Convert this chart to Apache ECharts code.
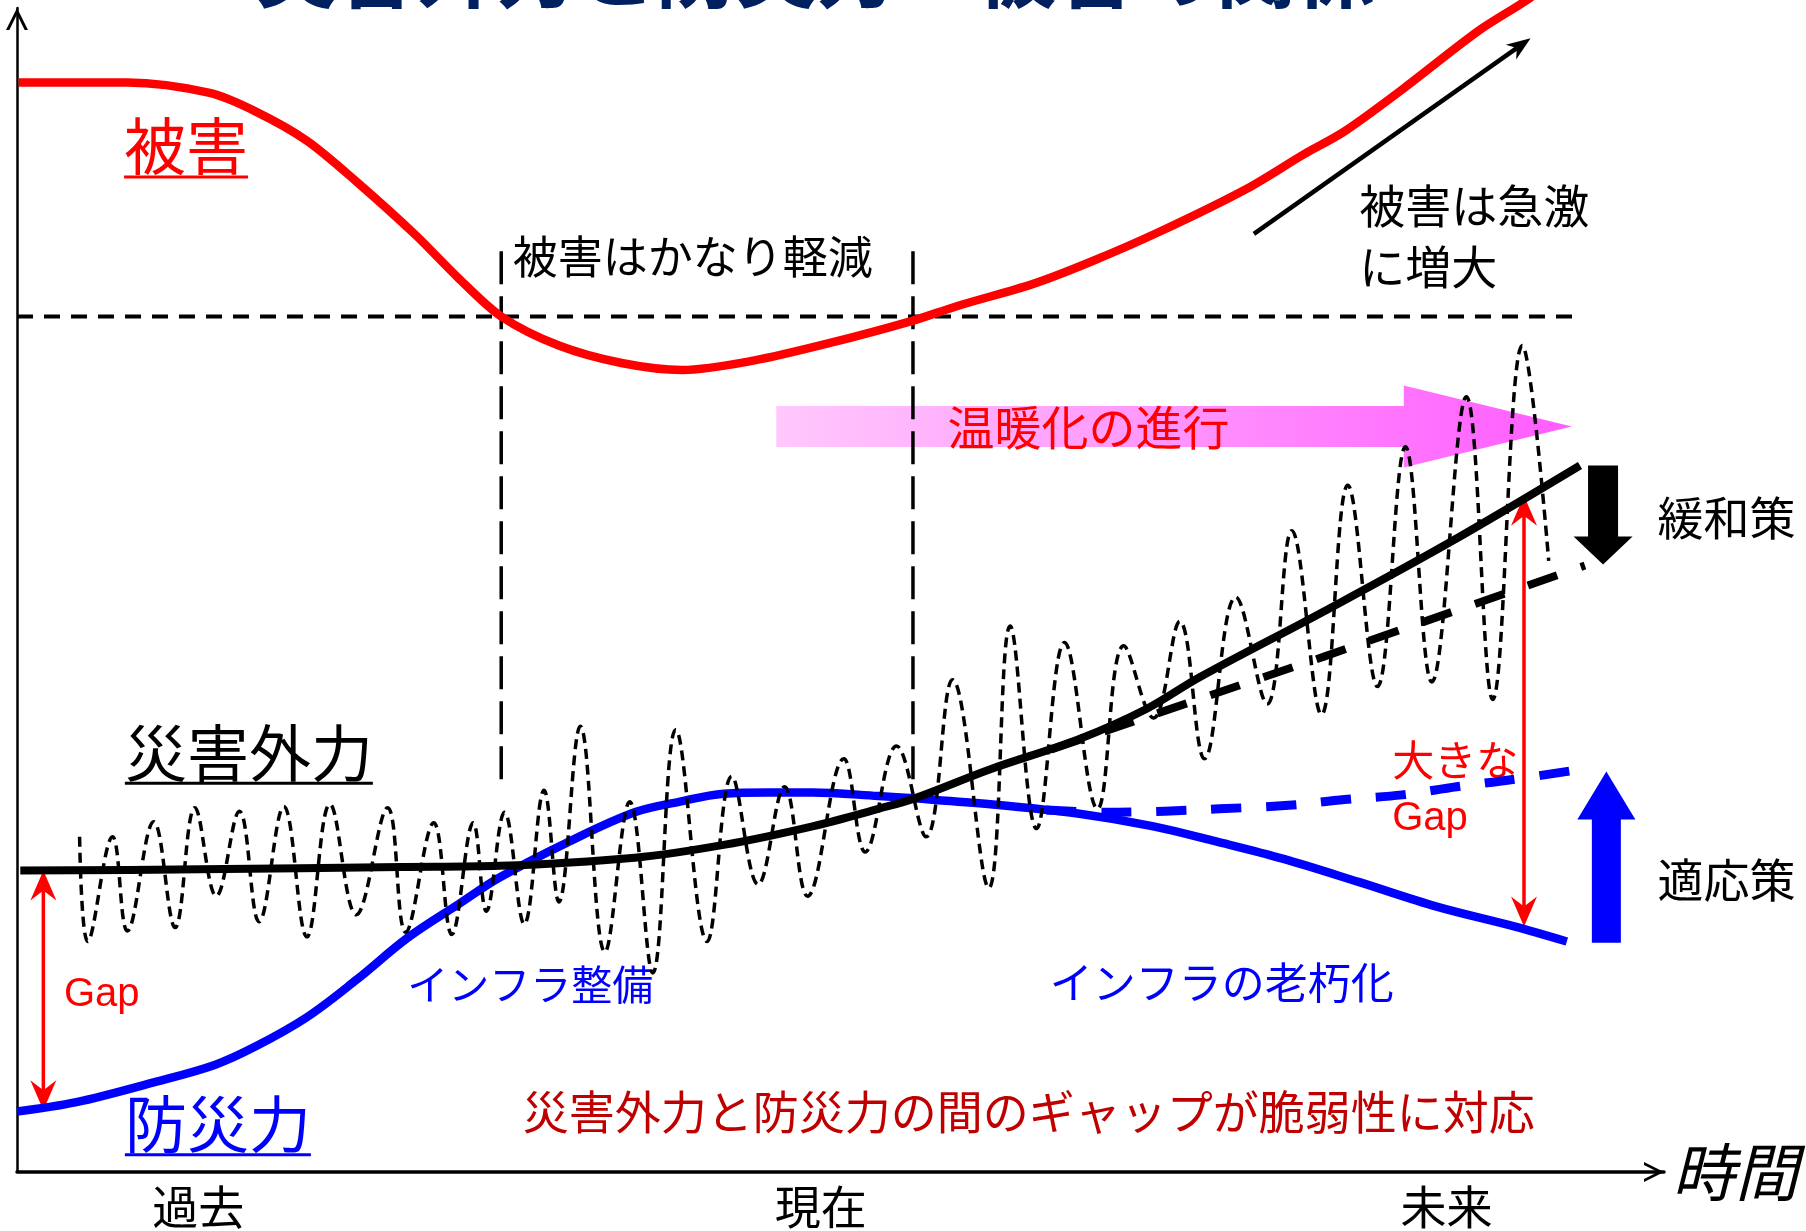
<!DOCTYPE html>
<html>
<head>
<meta charset="utf-8">
<title>災害外力と防災力・被害の関係</title>
<script src="https://cdn.jsdelivr.net/npm/echarts@6/dist/echarts.min.js"></script>
<style>
  html, body { margin: 0; padding: 0; background: #ffffff; }
  #chart { width: 1806px; height: 1231px; }
</style>
</head>
<body>
<div id="chart"></div>
<script>
// ---------- data (time 0–100 across, magnitude 0–100 up) ----------
const timeTicks = [11.0, 48.8, 86.8];
const timeLabels = ['過去', '現在', '未来'];

// 被害 (damage)
const damage = [[0.1,93.6],[6.7,93.6],[11.7,92.7],[14.5,91.1],[17.6,88.6],[20.6,85.1],[24.2,80.5],[26.8,76.8],[29.4,73.5],[32.9,71.0],[36.7,69.5],[40.4,68.9],[44.7,69.7],[49.3,71.2],[54.3,73.1],[57.1,74.4],[61.7,76.3],[65.2,78.2],[69.4,80.8],[74.7,84.5],[78.1,87.4],[80.6,89.4],[84.2,93.1],[88.7,98.0],[91.9,100.9],[93.7,103.0]];

// 災害外力 (hazard): long-term trend, trend with mitigation, and individual events
const hazardTrend = [[0.2,25.9],[11.1,26.0],[23.3,26.2],[29.3,26.3],[37.5,27.0],[42.9,28.1],[48.3,29.7],[52.3,31.2],[54.5,32.1],[59.1,34.6],[64.5,37.2],[68.6,39.8],[71.8,42.5],[79.4,48.2],[87.0,54.1],[94.9,60.7]];
const hazardMitigated = [[62.8,36.3],[79.4,44.3],[95.2,52.1]];
const hazardEvents = [[3.8,28.8],[4.3,19.8],[5.8,28.8],[6.7,20.7],[8.3,30.1],[9.6,21.0],[10.8,31.3],[12.1,23.7],[13.5,31.0],[14.7,21.5],[16.2,31.4],[17.6,20.2],[19.0,31.6],[20.6,22.1],[22.5,31.3],[23.6,20.6],[25.3,30.0],[26.4,20.4],[27.7,30.0],[28.5,22.4],[29.6,30.9],[30.8,21.3],[32.0,32.8],[32.9,23.2],[34.2,38.3],[35.7,18.9],[37.2,31.8],[38.6,17.1],[40.0,38.0],[41.9,19.8],[43.4,34.0],[45.0,24.7],[46.6,33.1],[48.0,23.7],[50.2,35.5],[51.5,27.5],[53.4,36.6],[55.2,28.8],[56.8,42.3],[59.0,24.4],[60.3,46.9],[61.9,29.5],[63.6,45.5],[65.6,31.2],[67.2,45.2],[69.0,39.0],[70.6,47.3],[72.1,35.5],[74.0,49.4],[75.9,40.2],[77.4,55.1],[79.2,39.3],[80.8,59.0],[82.6,41.7],[84.3,62.3],[85.9,42.1],[88.0,66.6],[89.6,40.6],[91.4,71.0],[93.0,52.5]];

// 防災力 (resilience): as built / ageing, and with adaptation
const resilience = [[0,5.2],[3.6,6.0],[8.3,7.7],[12.0,9.2],[14.5,10.8],[17.6,13.3],[20.6,16.5],[23.7,20.1],[26.8,23.0],[29.3,25.3],[33.4,28.3],[37.5,30.9],[40.2,31.8],[42.9,32.5],[45.6,32.6],[48.3,32.6],[52.3,32.3],[54.5,32.1],[59.1,31.6],[64.4,30.8],[69.0,29.7],[72.8,28.4],[76.9,26.9],[81.5,24.9],[86.2,22.8],[90.9,21.1],[94.1,19.8]];
const resilienceAdapted = [[62.5,31.1],[66.0,30.9],[69.7,31.0],[73.0,31.2],[77.2,31.5],[80.6,32.0],[84.1,32.4],[87.4,33.1],[90.7,33.7],[95.0,34.6]];

// reference level of damage and the period of reduced damage
const damageReference = [[0, 73.5], [94.7, 73.5]];
const eraBounds = [29.4, 54.4];
const eraSpan = [79.1, 32.9];

// ---------- annotations ----------
// double-headed gap arrows: [x, hazard level, resilience level]
const gapArrows = [[1.6, 25.9, 5.3], [91.5, 58.1, 21.1]];
// "damage rises sharply" pointer: [x0, y0, x1, y1]
const surgeArrow = [[75.1, 80.6, 91.9, 97.4]];
// warming band: [left, head base, tip, centre]
const warmingArrow = [[46.1, 84.2, 94.4, 64.05]];
// policy arrows: [x, from, to]  (緩和策 lowers the hazard, 適応策 raises resilience)
const policyArrows = [[96.3, 60.7, 52.2], [96.5, 19.7, 34.4]];

// text labels: [text, left, centre]
const notes = [
  ['被害', 6.5, 88.1],
  ['災害外力', 6.55, 36.0],
  ['防災力', 6.55, 4.1],
  ['被害はかなり軽減', 30.1, 78.6],
  ['被害は急激', 81.5, 83.0],
  ['に増大', 81.5, 77.8],
  ['温暖化の進行', 56.5, 64.0],
  ['緩和策', 99.6, 56.2],
  ['適応策', 99.6, 25.1],
  ['大きな', 83.5, 35.4],
  ['Gap', 83.5, 30.3],
  ['Gap', 2.85, 15.2],
  ['インフラ整備', 23.7, 16.1],
  ['インフラの老朽化', 62.7, 16.3],
  ['災害外力と防災力の間のギャップが脆弱性に対応', 30.7, 5.2]
];

// ---------- styles ----------
const CJK = '"Noto Sans CJK JP", "Noto Sans CJK SC", sans-serif';
const LATIN = '"Liberation Sans", Arial, sans-serif';
const RED = '#ff0000', BLUE = '#0000ff', BLACK = '#000000', DARK_RED = '#c00000', NAVY = '#002060';

const noteStyles = [
  { size: 62, color: RED, underline: true },
  { size: 62, color: BLACK, underline: true },
  { size: 62, color: BLUE, underline: true },
  { size: 45, color: BLACK },
  { size: 46, color: BLACK },
  { size: 46, color: BLACK },
  { size: 47, color: RED },
  { size: 46, color: BLACK },
  { size: 46, color: BLACK },
  { size: 42, color: RED },
  { size: 40, color: RED, latin: true },
  { size: 40, color: RED, latin: true },
  { size: 41, color: BLUE },
  { size: 43, color: BLUE },
  { size: 46, color: DARK_RED }
];
const policyStyles = [
  { color: BLACK, body: 30, head: 59, headLen: 28 },
  { color: BLUE, body: 29, head: 58, headLen: 48 }
];

const chevron = 'path://M0,20 L10,0 L20,20 L17,20 L10,6 L3,20 Z';

// arrow head with a notched back: tip, barb, notch, barb
function headPoints(tip, ux, uy, len, half, notch) {
  const nx = -uy, ny = ux;
  const bx = tip[0] - ux * len, by = tip[1] - uy * len;
  return {
    poly: [tip, [bx + nx * half, by + ny * half], [tip[0] - ux * notch, tip[1] - uy * notch], [bx - nx * half, by - ny * half]],
    neck: [tip[0] - ux * notch, tip[1] - uy * notch]
  };
}

function gapArrowItem(params, api) {
  const top = api.coord([api.value(0), api.value(1)]);
  const bot = api.coord([api.value(0), api.value(2)]);
  const h1 = headPoints(top, 0, -1, 30, 13, 20);
  const h2 = headPoints(bot, 0, 1, 30, 13, 20);
  return { type: 'group', children: [
    { type: 'line', shape: { x1: h1.neck[0], y1: h1.neck[1], x2: h2.neck[0], y2: h2.neck[1] }, style: { stroke: RED, lineWidth: 3.5 } },
    { type: 'polygon', shape: { points: h1.poly }, style: { fill: RED } },
    { type: 'polygon', shape: { points: h2.poly }, style: { fill: RED } }
  ] };
}

function surgeItem(params, api) {
  const a = api.coord([api.value(0), api.value(1)]);
  const b = api.coord([api.value(2), api.value(3)]);
  const len = Math.hypot(b[0] - a[0], b[1] - a[1]);
  const ux = (b[0] - a[0]) / len, uy = (b[1] - a[1]) / len;
  const h = headPoints(b, ux, uy, 24, 9, 17);
  return { type: 'group', children: [
    { type: 'line', shape: { x1: a[0], y1: a[1], x2: h.neck[0], y2: h.neck[1] }, style: { stroke: BLACK, lineWidth: 4.5 } },
    { type: 'polygon', shape: { points: h.poly }, style: { fill: BLACK } }
  ] };
}

function warmingItem(params, api) {
  const cy = api.coord([api.value(0), api.value(3)])[1];
  const left = api.coord([api.value(0), api.value(3)])[0];
  const base = api.coord([api.value(1), api.value(3)])[0];
  const tip = api.coord([api.value(2), api.value(3)])[0];
  const bh = 20.5, hh = 41;
  return {
    type: 'polygon',
    shape: { points: [[left, cy - bh], [base, cy - bh], [base, cy - hh], [tip, cy], [base, cy + hh], [base, cy + bh], [left, cy + bh]] },
    style: { fill: new echarts.graphic.LinearGradient(0, 0, 1, 0, [
      { offset: 0, color: '#ffc8fc' },
      { offset: 0.55, color: '#ff8ffd' },
      { offset: 1, color: '#ff5cff' }
    ]) }
  };
}

function policyItem(params, api) {
  const s = policyStyles[params.dataIndex];
  const from = api.coord([api.value(0), api.value(1)]);
  const to = api.coord([api.value(0), api.value(2)]);
  const dir = to[1] > from[1] ? 1 : -1;
  const x = from[0], bw = s.body / 2, hw = s.head / 2;
  const base = to[1] - dir * s.headLen;
  return {
    type: 'polygon',
    shape: { points: [[x - bw, from[1]], [x + bw, from[1]], [x + bw, base], [x + hw, base], [x, to[1]], [x - hw, base], [x - bw, base]] },
    style: { fill: s.color }
  };
}

function noteItem(params, api) {
  const i = params.dataIndex;
  const s = noteStyles[i];
  const text = notes[i][0];
  const p = api.coord([api.value(0), api.value(1)]);
  const children = [{
    type: 'text', x: p[0], y: p[1],
    style: { text: text, fill: s.color, align: 'left', verticalAlign: 'middle',
             font: s.size + 'px ' + (s.latin ? LATIN : CJK) }
  }];
  if (s.underline) {
    const w = text.length * s.size;
    const uy = p[1] + s.size * 0.49;
    children.push({ type: 'line', shape: { x1: p[0], y1: uy, x2: p[0] + w, y2: uy }, style: { stroke: s.color, lineWidth: 3 } });
  }
  return { type: 'group', children: children };
}

function lineSeries(data, color, width, dash, smooth, extra) {
  return Object.assign({
    type: 'line', data: data, showSymbol: false, symbol: 'none', smooth: smooth,
    silent: true, emphasis: { disabled: true },
    lineStyle: { color: color, width: width, type: dash || 'solid', cap: 'butt', join: 'round' }
  }, extra || {});
}

const chart = echarts.init(document.getElementById('chart'), null, { renderer: 'canvas' });
chart.setOption({
  animation: false,
  backgroundColor: '#ffffff',
  title: {
    text: '災害外力と防災力・被害の関係',
    left: 251, top: -74,
    textStyle: { fontSize: 80, fontWeight: 'bold', color: NAVY, fontFamily: CJK }
  },
  grid: { left: 17, right: 142, top: 8, bottom: 59, containLabel: false },
  xAxis: {
    type: 'value', min: 0, max: 100,
    name: '時間', nameLocation: 'end', nameGap: 8,
    nameTextStyle: { fontSize: 63, fontStyle: 'italic', fontFamily: CJK, color: BLACK, align: 'left', verticalAlign: 'middle', padding: [12, 0, 0, 0] },
    axisLine: { show: true, onZero: false, symbol: ['none', chevron], symbolSize: [22, 20], symbolOffset: [0, -10],
                lineStyle: { color: BLACK, width: 3.5 } },
    axisTick: { show: false },
    splitLine: { show: false },
    axisLabel: {
      show: true, margin: 12, color: BLACK, fontSize: 46, fontFamily: CJK,
      customValues: timeTicks,
      formatter: function (v) {
        const i = timeTicks.findIndex(function (t) { return Math.abs(t - v) < 1e-6; });
        return i >= 0 ? timeLabels[i] : '';
      }
    }
  },
  yAxis: {
    type: 'value', min: 0, max: 100,
    axisLine: { show: true, onZero: false, symbol: ['none', chevron], symbolSize: [22, 22], symbolOffset: [0, -11],
                lineStyle: { color: BLACK, width: 2.5 } },
    axisTick: { show: false },
    axisLabel: { show: false },
    splitLine: { show: false }
  },
  series: [
    { type: 'custom', name: '温暖化の進行', renderItem: warmingItem, data: warmingArrow, clip: false, silent: true },
    lineSeries(damageReference, BLACK, 4, [16, 11], false),
    lineSeries([[eraBounds[0], eraSpan[0]], [eraBounds[0], eraSpan[1]]], BLACK, 3.5, [33, 12], false),
    lineSeries([[eraBounds[1], eraSpan[0]], [eraBounds[1], eraSpan[1]]], BLACK, 3.5, [33, 12], false),
    lineSeries(resilience, BLUE, 8.5, 'solid', 0.35, { name: '防災力' }),
    lineSeries(resilienceAdapted, BLUE, 9, [30, 25], 0.35, { name: '適応策' }),
    lineSeries(hazardEvents, BLACK, 3.5, [10, 6], 0.4, { name: '災害外力（個々の事象）' }),
    lineSeries(hazardTrend, BLACK, 8, 'solid', 0.35, { name: '災害外力' }),
    lineSeries(hazardMitigated, BLACK, 8, [31, 25], false, { name: '緩和策' }),
    lineSeries(damage, RED, 8.5, 'solid', 0.3, { name: '被害', clip: false }),
    { type: 'custom', name: 'Gap', renderItem: gapArrowItem, data: gapArrows, clip: false, silent: true },
    { type: 'custom', name: '被害は急激に増大', renderItem: surgeItem, data: surgeArrow, clip: false, silent: true },
    { type: 'custom', name: '対策', renderItem: policyItem, data: policyArrows, clip: false, silent: true },
    { type: 'custom', name: 'labels', renderItem: noteItem, data: notes.map(function (n) { return [n[1], n[2]]; }), clip: false, silent: true }
  ]
});
</script>
</body>
</html>
